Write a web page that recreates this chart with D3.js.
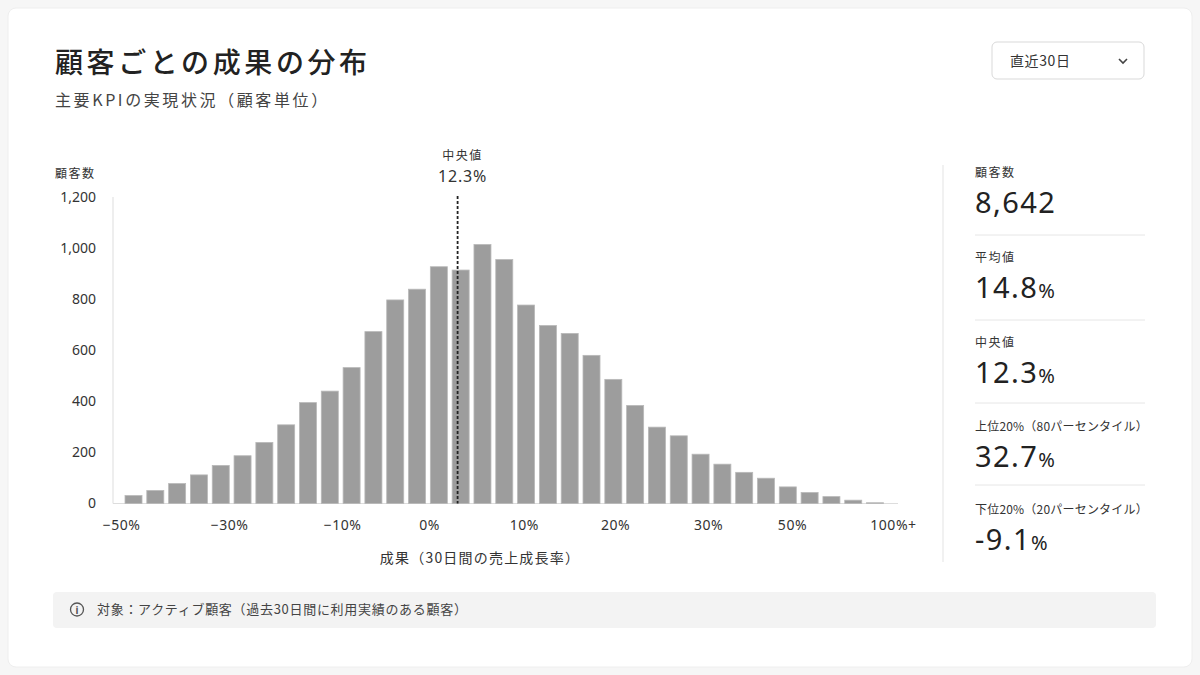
<!DOCTYPE html>
<html>
<head>
<meta charset="utf-8">
<script src="https://cdn.jsdelivr.net/npm/d3@7"></script>
<style>
  html, body { margin: 0; padding: 0; background: #f6f6f6; }
  svg { display: block; font-family: "Noto Sans CJK JP", "Noto Sans", sans-serif; }
</style>
</head>
<body>
<div id="chart"></div>
<script>
"use strict"
// data
const binCounts = [31, 51, 78, 112, 149, 187, 239, 308, 395, 440, 532, 673, 797, 839, 927, 914, 1014, 955,
    777, 697, 666, 580, 486, 384, 299, 265, 193, 154, 122, 99, 65, 43, 27, 13, 3];
const xTickLabels = ["−50%", "−30%", "−10%", "0%", "10%", "20%", "30%", "50%", "100%+"];
const xTickBins = [-0.18, 4.77, 9.95, 13.94, 18.29, 22.47, 26.73, 30.58, 35.21];
const yTicks = [0, 200, 400, 600, 800, 1000, 1200];
const medianBin = 15.25;
const medianLabel = "12.3%";

const statLabels = ["顧客数", "平均値", "中央値", "上位20%（80パーセンタイル）", "下位20%（20パーセンタイル）"];
const statValues = ["8,642", "14.8", "12.3", "32.7", "-9.1"];
const statUnits = ["", "%", "%", "%", "%"];

function drawChart() {
    const W = 1200, H = 675;
    const svg = d3.select("#chart").append("svg").attr("width", W).attr("height", H);

    // card
    svg.append("rect").attr("x", 8).attr("y", 8).attr("width", W - 16).attr("height", H - 16)
        .attr("rx", 8).attr("fill", "#fff").attr("stroke", "#eeeeee");

    // header
    svg.append("text").attr("x", 55).attr("y", 73).text("顧客ごとの成果の分布")
        .attr("font-size", 28).attr("font-weight", 500).attr("letter-spacing", 3.6).attr("fill", "#222");
    svg.append("text").attr("x", 55).attr("y", 106).text("主要KPIの実現状況（顧客単位）")
        .attr("font-size", 16).attr("letter-spacing", 2.6).attr("fill", "#444");

    // dropdown
    const dd = svg.append("g").attr("transform", "translate(992,42)");
    dd.append("rect").attr("width", 152).attr("height", 37).attr("rx", 5)
        .attr("fill", "#fff").attr("stroke", "#d9d9d9");
    dd.append("text").attr("x", 18).attr("y", 23.5).text("直近30日")
        .attr("font-size", 14).attr("letter-spacing", 0.6).attr("fill", "#333");
    dd.append("path").attr("d", "M127,17 l4,4 l4,-4").attr("fill", "none")
        .attr("stroke", "#444").attr("stroke-width", 1.6);

    // scales
    const x = d3.scaleLinear().domain([0, binCounts.length]).range([125, 125 + 21.81 * binCounts.length]);
    const y = d3.scaleLinear().domain([0, 1200]).range([503.5, 197]);
    const barW = x(0.78) - x(0);

    const plot = svg.append("g");

    // axis lines
    plot.append("line").attr("x1", 113).attr("x2", 113).attr("y1", y(1200)).attr("y2", y(0))
        .attr("stroke", "#dddddd");
    plot.append("line").attr("x1", 113).attr("x2", 898).attr("y1", y(0)).attr("y2", y(0))
        .attr("stroke", "#dddddd");

    // bars
    plot.selectAll(".bar")
        .data(binCounts)
        .enter()
        .append("rect")
        .attr("class", "bar")
        .attr("x", (d, i) => x(i))
        .attr("y", d => y(d))
        .attr("width", barW)
        .attr("height", d => y(0) - y(d))
        .attr("fill", "#9d9d9d")
        .attr("stroke", "#b9b9b9")
        .attr("stroke-width", 0.8);

    // y axis
    const yAxis = d3.axisLeft(y).tickValues(yTicks).tickFormat(d3.format(",")).tickSize(0).tickPadding(17);
    const gy = plot.append("g").attr("transform", "translate(113,0)").call(yAxis);
    gy.select(".domain").remove();
    gy.selectAll("text").attr("font-size", 14).attr("fill", "#333")
        .attr("font-family", "'Noto Sans', 'Noto Sans CJK JP', sans-serif");

    // x axis
    const xAxis = d3.axisBottom(x).tickValues(xTickBins).tickFormat((d, i) => xTickLabels[i])
        .tickSize(0).tickPadding(17);
    const gx = plot.append("g").attr("transform", "translate(0," + y(0) + ")").call(xAxis);
    gx.select(".domain").remove();
    gx.selectAll("text").attr("font-size", 14).attr("fill", "#333").attr("letter-spacing", 0.5)
        .attr("font-family", "'Noto Sans', 'Noto Sans CJK JP', sans-serif");

    // axis titles
    svg.append("text").attr("x", 55).attr("y", 178).text("顧客数")
        .attr("font-size", 12).attr("letter-spacing", 1.5).attr("fill", "#333");
    svg.append("text").attr("x", 480).attr("y", 563).attr("text-anchor", "middle")
        .text("成果（30日間の売上成長率）")
        .attr("font-size", 14).attr("letter-spacing", 1.2).attr("fill", "#333");

    // median line
    plot.append("line").attr("x1", x(medianBin)).attr("x2", x(medianBin))
        .attr("y1", 196).attr("y2", y(0))
        .attr("stroke", "#222").attr("stroke-width", 1.8).attr("stroke-dasharray", "3,2");
    plot.append("text").attr("x", x(medianBin) + 5).attr("y", 159.5).attr("text-anchor", "middle")
        .text("中央値").attr("font-size", 12).attr("letter-spacing", 1.5).attr("fill", "#333");
    plot.append("text").attr("x", x(medianBin) + 5).attr("y", 182).attr("text-anchor", "middle")
        .text(medianLabel).attr("font-size", 16).attr("letter-spacing", 0.8).attr("fill", "#333")
        .attr("font-family", "'Noto Sans', sans-serif");

    // right panel
    svg.append("line").attr("x1", 943).attr("x2", 943).attr("y1", 165).attr("y2", 562)
        .attr("stroke", "#e3e3e3");
    const statTop = [173, 258, 343, 427, 510];
    const stats = svg.selectAll(".stat")
        .data(statLabels)
        .enter()
        .append("g")
        .attr("class", "stat")
        .attr("transform", (d, i) => "translate(975," + statTop[i] + ")");
    stats.append("text").attr("y", 4).text(d => d)
        .attr("font-size", 12).attr("letter-spacing", (d) => d.length > 4 ? 0.2 : 1.5).attr("fill", "#333");
    const val = stats.append("text").attr("y", 40)
        .attr("font-family", "'Noto Sans', sans-serif").attr("fill", "#222");
    val.append("tspan").text((d, i) => statValues[i]).attr("font-size", 29).attr("letter-spacing", 1.4);
    val.append("tspan").text((d, i) => statUnits[i]).attr("font-size", 20).attr("dx", 0);
    stats.filter((d, i) => i < statLabels.length - 1)
        .append("line").attr("x1", 0).attr("x2", 170).attr("y1", (d, i) => [62, 62, 60, 58][i])
        .attr("y2", (d, i) => [62, 62, 60, 58][i]).attr("stroke", "#e6e6e6");

    // footer note
    const ft = svg.append("g").attr("transform", "translate(53,592)");
    ft.append("rect").attr("width", 1103).attr("height", 36).attr("rx", 4).attr("fill", "#f3f3f3");
    ft.append("circle").attr("cx", 24).attr("cy", 17.5).attr("r", 6.5).attr("fill", "none")
        .attr("stroke", "#555").attr("stroke-width", 1.3);
    ft.append("text").attr("x", 24).attr("y", 21.5).attr("text-anchor", "middle").text("i")
        .attr("font-size", 10).attr("font-weight", 700).attr("fill", "#555").attr("font-family", "'Noto Sans', sans-serif");
    ft.append("text").attr("x", 44).attr("y", 22).text("対象：アクティブ顧客（過去30日間に利用実績のある顧客）")
        .attr("font-size", 13).attr("letter-spacing", 0.7).attr("fill", "#444");
}

window.onload = drawChart;
</script>
</body>
</html>
